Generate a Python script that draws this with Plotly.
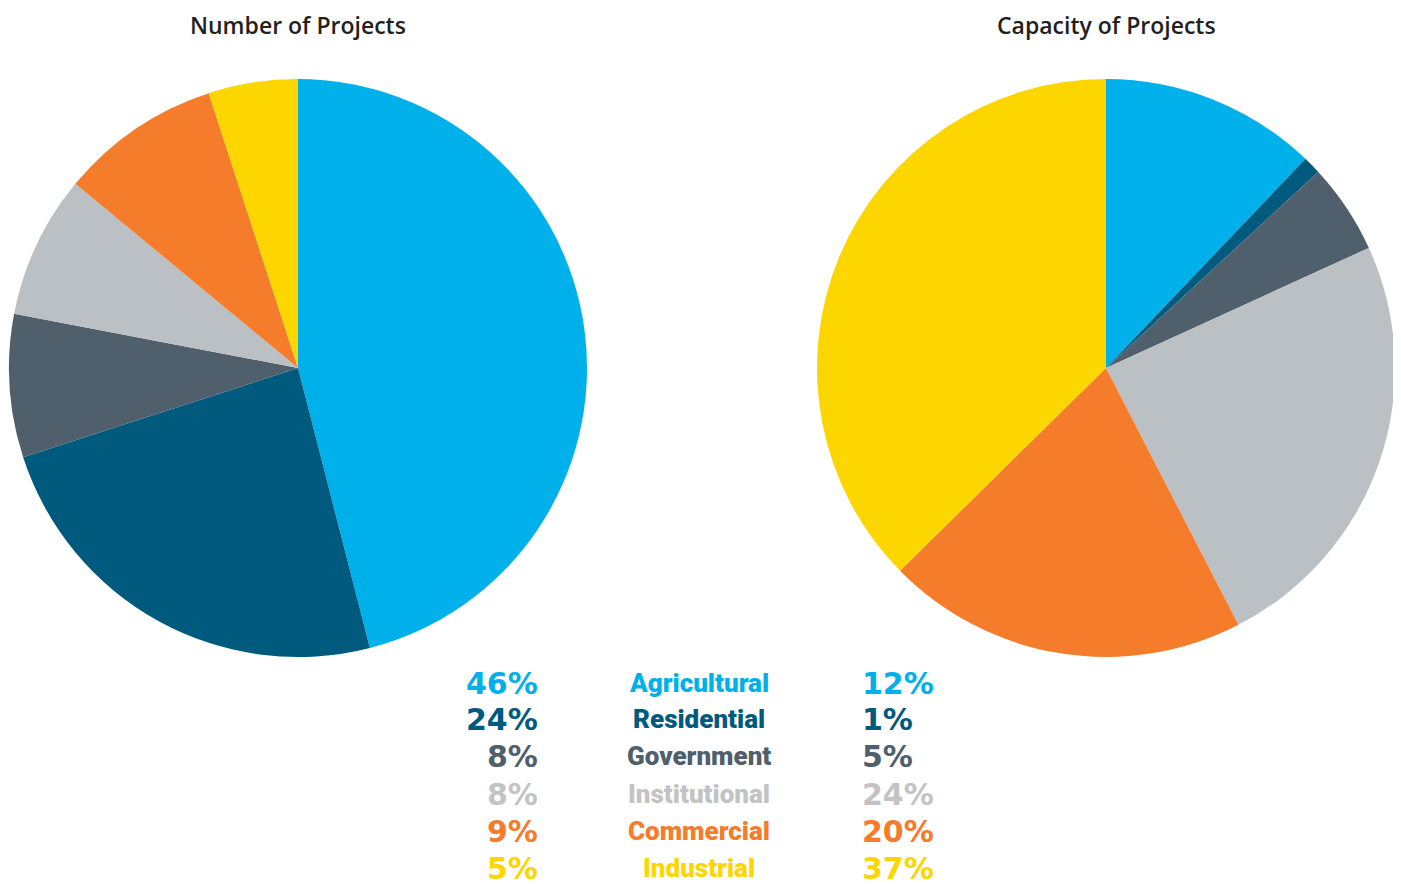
import plotly.graph_objects as go

# data
categories = ['Agricultural', 'Residential', 'Government', 'Institutional', 'Commercial', 'Industrial']
number_pct = [46, 24, 8, 8, 9, 5]
capacity_pct = [12, 1, 5, 24, 20, 37]
slice_colors = ['#00B0EA', '#005A7E', '#4F5F6B', '#BAC0C3', '#F47C2B', '#FDD600']
text_colors = ['#00B0EA', '#005A7E', '#4F5F6B', '#C3C3C3', '#F47C2B', '#FDD600']

W, H = 1401, 884
OFF = 8  # the page body margin shifts the figure by 8px


def px(x):
    return (x - OFF) / W


def py(y):
    return 1 - (y - OFF) / H


fig = go.Figure()

# left pie: number of projects
fig.add_trace(go.Pie(
    labels=categories,
    values=number_pct,
    sort=False,
    direction='clockwise',
    rotation=0,
    textinfo='none',
    marker=dict(colors=slice_colors, line=dict(width=0)),
    domain=dict(x=[px(9), px(587)], y=[py(657), py(79)]),
    showlegend=False,
))

# right pie: capacity of projects
fig.add_trace(go.Pie(
    labels=categories,
    values=capacity_pct,
    sort=False,
    direction='clockwise',
    rotation=0,
    textinfo='none',
    marker=dict(colors=slice_colors, line=dict(width=0)),
    domain=dict(x=[px(817), px(1395)], y=[py(657), py(79)]),
    showlegend=False,
))

annotations = [
    dict(text='Number of Projects', x=px(298), y=1),
    dict(text='Capacity of Projects', x=px(1106), y=1),
]
for a in annotations:
    a.update(xanchor='center', yanchor='top', borderpad=0,
             font=dict(family='Open Sans', size=23, weight=600, color='#231F20'))

# table of percentages under the pies
row_y = [683, 719, 756, 794, 831, 868]
pct_font = 'DejaVu Sans'
for i, cat in enumerate(categories):
    c = text_colors[i]
    annotations.append(dict(
        text=f'<b>{number_pct[i]}%</b>', x=px(540), y=py(row_y[i]),
        xanchor='right', yanchor='middle',
        font=dict(family=pct_font, size=30, color=c)))
    annotations.append(dict(
        text=cat, x=px(699), y=py(row_y[i]),
        xanchor='center', yanchor='middle',
        font=dict(family='Roboto', size=26, weight=900, color=c)))
    annotations.append(dict(
        text=f'<b>{capacity_pct[i]}%</b>', x=px(860), y=py(row_y[i]),
        xanchor='left', yanchor='middle',
        font=dict(family=pct_font, size=30, color=c)))
for a in annotations:
    a.setdefault('xref', 'paper')
    a.setdefault('yref', 'paper')
    a.setdefault('showarrow', False)

fig.update_layout(
    width=W,
    height=H,
    margin=dict(l=0, r=0, t=0, b=0),
    paper_bgcolor='white',
    plot_bgcolor='white',
    annotations=annotations,
)

fig.write_html('out.html')
